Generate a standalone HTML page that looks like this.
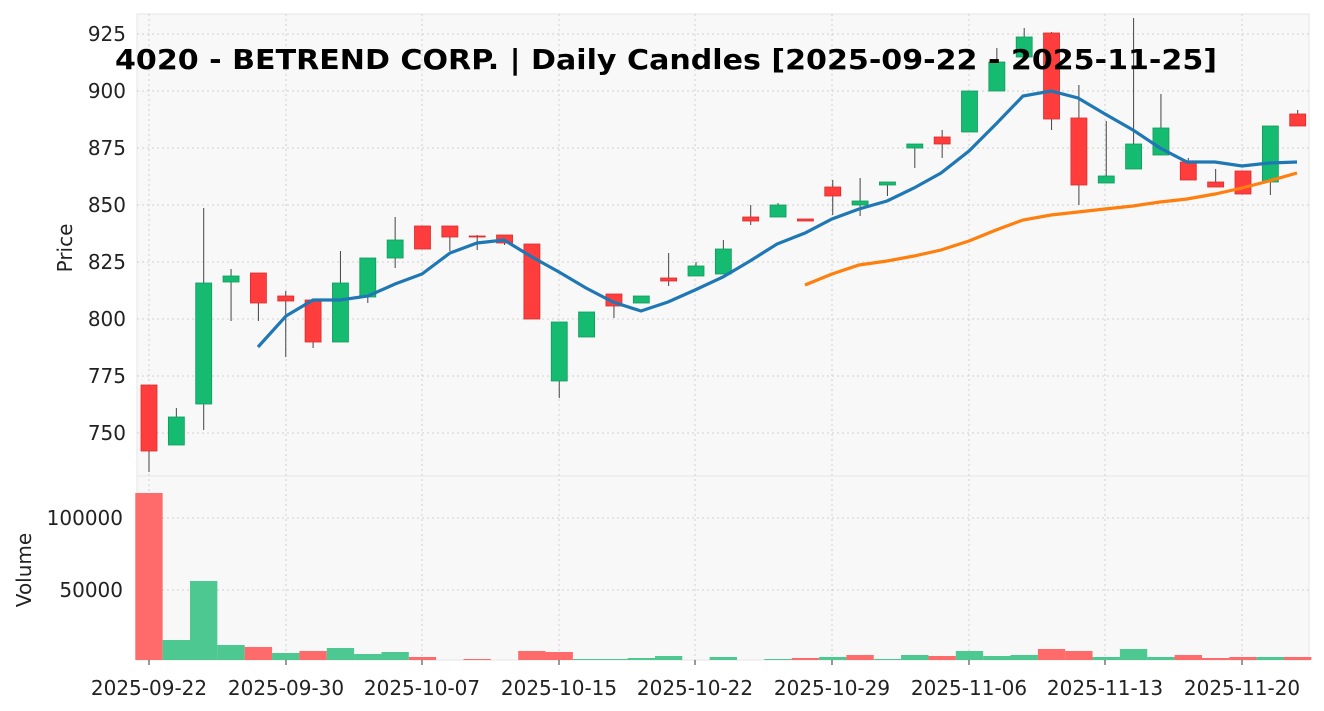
<!DOCTYPE html>
<html><head><meta charset="utf-8"><style>
body{margin:0;background:#fff}
svg{display:block;font-family:"DejaVu Sans","Liberation Sans",sans-serif}
.t{font-size:20px;fill:#222}
</style></head><body>
<svg width="1324" height="711" viewBox="0 0 1324 711">
<rect x="137" y="14" width="1172" height="462" fill="#f8f8f8" stroke="#e6e6e6"/>
<rect x="137" y="476" width="1172" height="184" fill="#f8f8f8" stroke="#e6e6e6"/>
<g stroke="#cfcfcf" stroke-dasharray="2,3" stroke-width="1">
<line x1="137" x2="1309" y1="34" y2="34"/><line x1="137" x2="1309" y1="91" y2="91"/><line x1="137" x2="1309" y1="148" y2="148"/><line x1="137" x2="1309" y1="205" y2="205"/><line x1="137" x2="1309" y1="262" y2="262"/><line x1="137" x2="1309" y1="319" y2="319"/><line x1="137" x2="1309" y1="376" y2="376"/><line x1="137" x2="1309" y1="433" y2="433"/>
<line x1="137" x2="1309" y1="518" y2="518"/><line x1="137" x2="1309" y1="590" y2="590"/>
<line x1="149" x2="149" y1="14" y2="660"/><line x1="286" x2="286" y1="14" y2="660"/><line x1="422" x2="422" y1="14" y2="660"/><line x1="559" x2="559" y1="14" y2="660"/><line x1="695" x2="695" y1="14" y2="660"/><line x1="832" x2="832" y1="14" y2="660"/><line x1="969" x2="969" y1="14" y2="660"/><line x1="1105" x2="1105" y1="14" y2="660"/><line x1="1242" x2="1242" y1="14" y2="660"/>
</g>
<g id="vol"></g>
<g id="candles"></g>
<polyline fill="none" stroke="#ff7f0e" stroke-width="3.2" points="805,285 832,274 859,265 887,261 914,256 941,250 969,241 996,230 1023,220 1051,215 1078,212 1105,209 1133,206 1160,202 1187,199 1215,194 1242,188 1269,181 1297,173"/>
<polyline fill="none" stroke="#1f77b4" stroke-width="3.2" points="258,347 286,316 313,300 340,300 368,296 395,284 422,274 450,253 477,243 504,240 532,257 559,272 586,288 613,302 641,311 668,302 695,290 723,277 750,261 777,244 805,233 832,219 859,209 887,201 914,188 941,173 969,151 996,124 1023,96 1051,91 1078,98 1105,114 1133,130 1160,148 1187,162 1215,162 1242,166 1269,163 1297,162"/>
<g class="t" text-anchor="end">
<text x="126" y="41">925</text><text x="126" y="98">900</text><text x="126" y="155">875</text><text x="126" y="212">850</text><text x="126" y="269">825</text><text x="126" y="326">800</text><text x="126" y="383">775</text><text x="126" y="440">750</text>
<text x="123" y="525">100000</text><text x="123" y="597">50000</text>
</g>
<g class="t" text-anchor="middle">
<text x="149" y="695">2025-09-22</text><text x="286" y="695">2025-09-30</text><text x="422" y="695">2025-10-07</text><text x="559" y="695">2025-10-15</text><text x="695" y="695">2025-10-22</text><text x="832" y="695">2025-10-29</text><text x="969" y="695">2025-11-06</text><text x="1105" y="695">2025-11-13</text><text x="1242" y="695">2025-11-20</text>
</g>
<g stroke="#333"><line x1="149" x2="149" y1="660" y2="665"/><line x1="286" x2="286" y1="660" y2="665"/><line x1="422" x2="422" y1="660" y2="665"/><line x1="559" x2="559" y1="660" y2="665"/><line x1="695" x2="695" y1="660" y2="665"/><line x1="832" x2="832" y1="660" y2="665"/><line x1="969" x2="969" y1="660" y2="665"/><line x1="1105" x2="1105" y1="660" y2="665"/><line x1="1242" x2="1242" y1="660" y2="665"/></g>
<text class="t" transform="translate(72,248) rotate(-90)" text-anchor="middle">Price</text>
<text class="t" transform="translate(31,570) rotate(-90)" text-anchor="middle">Volume</text>
<text x="115" y="69" textLength="1102" lengthAdjust="spacingAndGlyphs" style="font-size:28px;font-weight:bold" fill="#000">4020 - BETREND CORP. | Daily Candles [2025-09-22 - 2025-11-25]</text>
</svg>
<script>
const C=[['r',385,451,385,472],['g',417,445,408,445],['g',283,404,208,430],['g',276,282,269,321],['r',273,303,273,321],['r',296,301,291,357],['r',300,342,300,348],['g',283,342,251,342],['g',258,297,258,303],['g',240,258,217,268],['r',226,249,226,249],['r',226,237,226,251],['r',236,237,235,250],['r',235,243,235,245],['r',244,319,244,319],['g',322,381,322,398],['g',312,337,312,337],['r',294,306,294,318],['g',296,303,296,303],['r',278,281,253,286],['g',266,276,262,276],['g',249,274,240,274],['r',217,221,205,225],['g',205,217,203,217],['r',219,221,219,221],['r',187,196,180,215],['g',201,205,178,216],['g',182,185,182,196],['g',144,148,144,168],['r',137,144,130,158],['g',91,132,91,132],['g',62,91,48,91],['g',37,57,28,57],['r',33,119,32,130],['r',118,185,85,205],['g',176,183,121,183],['g',144,169,18,169],['g',128,155,94,155],['r',162,180,158,180],['r',182,187,169,187],['r',171,194,171,194],['g',126,182,126,195],['r',114,126,110,126]];
const V=[['r',493],['g',640],['g',581],['g',645],['r',647],['g',653],['r',651],['g',648],['g',654],['g',652],['r',657],['g',660],['r',659],['r',660],['r',651],['r',652],['g',659],['g',659],['g',658],['g',656],['g',660],['g',657],['g',660],['g',659],['r',658],['g',657],['r',655],['g',659],['g',655],['r',656],['g',651],['g',656],['g',655],['r',649],['r',651],['g',657],['g',649],['g',657],['r',655],['r',658],['r',657],['g',657],['r',657]];
let s='',v='';
C.forEach((c,i)=>{const x=149+27.35*i;const f=c[0]=='g'?'#16bb72':'#ff3d3d',st=c[0]=='g'?'#0f9a5c':'#d92b2b';
s+=`<line x1="${x}" x2="${x}" y1="${c[3]}" y2="${c[4]}" stroke="#444" stroke-width="1"/>`;
s+=`<rect x="${x-8}" y="${c[1]}" width="16" height="${Math.max(c[2]-c[1],1)}" fill="${f}" stroke="${st}" stroke-width="0.8"/>`;});
V.forEach((b,i)=>{const x=149+27.35*i;v+=`<rect x="${x-13.7}" y="${b[1]}" width="27.35" height="${660-b[1]}" fill="${b[0]=='g'?'#4cc890':'#ff6a6a'}"/>`;});
document.getElementById('candles').innerHTML=s;document.getElementById('vol').innerHTML=v;
</script>
</body></html>
